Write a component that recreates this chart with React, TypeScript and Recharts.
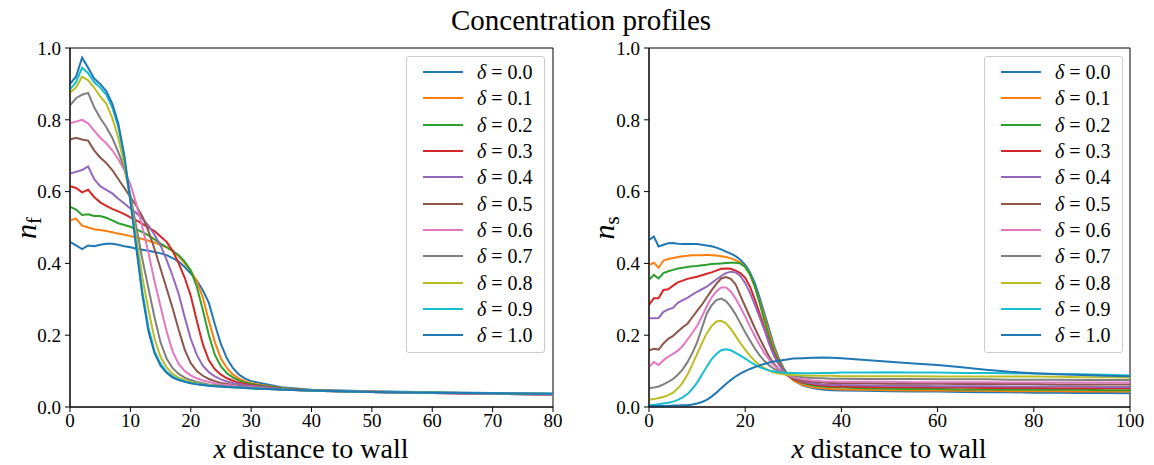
import React from 'react';
import { LineChart, Line, XAxis, YAxis, Legend, ReferenceArea } from 'recharts';

// x positions (distance to wall) of the sampled points
const leftX = [0, 1, 2, 3, 4, 5, 6, 7, 8, 9, 10, 11, 12, 13, 14, 15, 16, 17, 18, 19, 20, 21, 22, 23, 24, 25, 26, 27, 28, 29, 30, 35, 40, 50, 60, 70, 80];
const rightX = [0, 1, 2, 3, 4, 5, 6, 7, 8, 9, 10, 11, 12, 13, 14, 15, 16, 17, 18, 19, 20, 21, 22, 23, 24, 25, 26, 27, 28, 29, 30, 32, 34, 36, 38, 40, 45, 50, 55, 60, 65, 70, 75, 80, 85, 90, 95, 100];

const deltas = ['0.0', '0.1', '0.2', '0.3', '0.4', '0.5', '0.6', '0.7', '0.8', '0.9', '1.0'];
const colors = ['#1f77b4', '#ff7f0e', '#2ca02c', '#d62728', '#9467bd', '#8c564b', '#e377c2', '#7f7f7f', '#bcbd22', '#17becf', '#1f77b4'];

const leftTicks = [0, 10, 20, 30, 40, 50, 60, 70, 80];
const rightTicks = [0, 20, 40, 60, 80, 100];
const yTicks = [0, 0.2, 0.4, 0.6, 0.8, 1.0];

// n_f, left panel
const nf00 = [0.46, 0.45, 0.44, 0.45, 0.448, 0.452, 0.455, 0.455, 0.452, 0.448, 0.445, 0.441, 0.438, 0.435, 0.432, 0.428, 0.423, 0.415, 0.405, 0.39, 0.372, 0.352, 0.325, 0.29, 0.23, 0.175, 0.135, 0.108, 0.09, 0.079, 0.072, 0.055, 0.048, 0.044, 0.041, 0.039, 0.037];
const nf01 = [0.52, 0.525, 0.505, 0.5, 0.495, 0.493, 0.49, 0.487, 0.483, 0.48, 0.476, 0.472, 0.468, 0.463, 0.458, 0.452, 0.445, 0.435, 0.42, 0.4, 0.38, 0.35, 0.305, 0.24, 0.18, 0.135, 0.108, 0.09, 0.079, 0.071, 0.066, 0.053, 0.047, 0.043, 0.04, 0.038, 0.036];
const nf02 = [0.558, 0.55, 0.535, 0.537, 0.532, 0.532, 0.527, 0.52, 0.512, 0.507, 0.502, 0.495, 0.487, 0.478, 0.467, 0.455, 0.445, 0.435, 0.423, 0.405, 0.38, 0.335, 0.27, 0.2, 0.145, 0.113, 0.094, 0.082, 0.074, 0.068, 0.064, 0.052, 0.046, 0.042, 0.04, 0.037, 0.035];
const nf03 = [0.615, 0.61, 0.598, 0.605, 0.585, 0.57, 0.56, 0.552, 0.545, 0.537, 0.528, 0.52, 0.51, 0.5, 0.49, 0.475, 0.46, 0.435, 0.4, 0.36, 0.31, 0.24, 0.175, 0.13, 0.105, 0.09, 0.08, 0.073, 0.068, 0.064, 0.061, 0.051, 0.046, 0.042, 0.039, 0.037, 0.035];
const nf04 = [0.65, 0.655, 0.66, 0.67, 0.635, 0.615, 0.605, 0.595, 0.58, 0.567, 0.553, 0.54, 0.525, 0.505, 0.48, 0.45, 0.41, 0.365, 0.315, 0.25, 0.19, 0.145, 0.115, 0.097, 0.085, 0.077, 0.071, 0.067, 0.064, 0.061, 0.059, 0.05, 0.045, 0.042, 0.039, 0.037, 0.035];
const nf05 = [0.745, 0.75, 0.745, 0.742, 0.715, 0.695, 0.68, 0.66, 0.635, 0.61, 0.585, 0.56, 0.53, 0.49, 0.44, 0.385, 0.33, 0.275, 0.215, 0.16, 0.122, 0.1, 0.087, 0.078, 0.072, 0.067, 0.064, 0.061, 0.059, 0.057, 0.056, 0.049, 0.045, 0.042, 0.039, 0.037, 0.035];
const nf06 = [0.79, 0.795, 0.8, 0.79, 0.77, 0.75, 0.735, 0.715, 0.69, 0.66, 0.62, 0.565, 0.5, 0.43, 0.35, 0.28, 0.21, 0.155, 0.12, 0.1, 0.088, 0.08, 0.074, 0.07, 0.066, 0.063, 0.061, 0.059, 0.057, 0.056, 0.055, 0.049, 0.045, 0.042, 0.039, 0.037, 0.035];
const nf07 = [0.84, 0.86, 0.87, 0.875, 0.835, 0.805, 0.78, 0.75, 0.71, 0.665, 0.59, 0.5, 0.41, 0.33, 0.25, 0.18, 0.135, 0.108, 0.092, 0.082, 0.075, 0.07, 0.066, 0.063, 0.061, 0.059, 0.057, 0.056, 0.055, 0.054, 0.053, 0.049, 0.045, 0.042, 0.04, 0.038, 0.036];
const nf08 = [0.875, 0.89, 0.92, 0.91, 0.89, 0.865, 0.845, 0.805, 0.75, 0.675, 0.58, 0.47, 0.36, 0.27, 0.19, 0.14, 0.11, 0.092, 0.082, 0.075, 0.07, 0.066, 0.063, 0.061, 0.059, 0.057, 0.056, 0.055, 0.054, 0.053, 0.052, 0.049, 0.046, 0.042, 0.04, 0.038, 0.036];
const nf09 = [0.885, 0.905, 0.945, 0.93, 0.905, 0.89, 0.87, 0.835, 0.78, 0.695, 0.575, 0.45, 0.32, 0.22, 0.155, 0.12, 0.098, 0.085, 0.077, 0.071, 0.067, 0.064, 0.062, 0.06, 0.058, 0.057, 0.056, 0.055, 0.054, 0.053, 0.052, 0.049, 0.046, 0.042, 0.04, 0.038, 0.037];
const nf10 = [0.9, 0.92, 0.973, 0.945, 0.915, 0.9, 0.88, 0.845, 0.79, 0.7, 0.575, 0.44, 0.31, 0.21, 0.15, 0.115, 0.095, 0.082, 0.075, 0.07, 0.066, 0.063, 0.061, 0.059, 0.058, 0.057, 0.056, 0.055, 0.054, 0.053, 0.052, 0.049, 0.046, 0.042, 0.04, 0.038, 0.037];

// n_s, right panel
const ns00 = [0.465, 0.475, 0.447, 0.452, 0.456, 0.457, 0.455, 0.454, 0.454, 0.454, 0.454, 0.452, 0.45, 0.448, 0.444, 0.439, 0.433, 0.427, 0.42, 0.41, 0.396, 0.375, 0.345, 0.305, 0.26, 0.215, 0.17, 0.135, 0.108, 0.088, 0.075, 0.06, 0.053, 0.049, 0.047, 0.046, 0.045, 0.044, 0.043, 0.043, 0.042, 0.041, 0.041, 0.04, 0.04, 0.039, 0.039, 0.038];
const ns01 = [0.395, 0.402, 0.388, 0.408, 0.412, 0.415, 0.418, 0.42, 0.421, 0.423, 0.423, 0.423, 0.424, 0.423, 0.422, 0.42, 0.418, 0.414, 0.409, 0.402, 0.39, 0.368, 0.335, 0.295, 0.25, 0.205, 0.163, 0.13, 0.105, 0.087, 0.074, 0.061, 0.055, 0.052, 0.05, 0.049, 0.048, 0.047, 0.046, 0.046, 0.045, 0.045, 0.044, 0.044, 0.044, 0.043, 0.043, 0.043];
const ns02 = [0.354, 0.368, 0.358, 0.373, 0.378, 0.382, 0.386, 0.388, 0.39, 0.392, 0.393, 0.395, 0.396, 0.398, 0.399, 0.4, 0.401, 0.402, 0.402, 0.4, 0.39, 0.37, 0.335, 0.29, 0.24, 0.195, 0.155, 0.125, 0.103, 0.088, 0.078, 0.066, 0.06, 0.057, 0.055, 0.054, 0.052, 0.051, 0.05, 0.05, 0.049, 0.049, 0.048, 0.048, 0.048, 0.048, 0.047, 0.047];
const ns03 = [0.284, 0.303, 0.303, 0.326, 0.328, 0.338, 0.347, 0.352, 0.357, 0.36, 0.363, 0.367, 0.371, 0.375, 0.38, 0.385, 0.386, 0.385, 0.38, 0.373, 0.36, 0.335, 0.3, 0.26, 0.22, 0.18, 0.145, 0.12, 0.1, 0.087, 0.078, 0.068, 0.063, 0.06, 0.058, 0.057, 0.056, 0.055, 0.055, 0.054, 0.054, 0.053, 0.053, 0.053, 0.052, 0.052, 0.052, 0.052];
const ns04 = [0.247, 0.247, 0.248, 0.265, 0.272, 0.276, 0.29, 0.298, 0.304, 0.313, 0.321, 0.328, 0.335, 0.345, 0.355, 0.365, 0.373, 0.377, 0.375, 0.365, 0.345, 0.318, 0.285, 0.25, 0.215, 0.175, 0.142, 0.118, 0.1, 0.088, 0.08, 0.07, 0.066, 0.063, 0.062, 0.061, 0.06, 0.059, 0.059, 0.058, 0.058, 0.058, 0.057, 0.057, 0.057, 0.057, 0.056, 0.056];
const ns05 = [0.157, 0.162, 0.16, 0.177, 0.19, 0.198, 0.21, 0.222, 0.232, 0.25, 0.268, 0.285, 0.305, 0.325, 0.343, 0.358, 0.362, 0.357, 0.342, 0.31, 0.28, 0.25, 0.22, 0.192, 0.165, 0.14, 0.12, 0.105, 0.094, 0.086, 0.08, 0.073, 0.07, 0.068, 0.067, 0.066, 0.066, 0.065, 0.065, 0.065, 0.064, 0.064, 0.064, 0.064, 0.063, 0.063, 0.063, 0.063];
const ns06 = [0.112, 0.125, 0.117, 0.13, 0.14, 0.148, 0.157, 0.17, 0.188, 0.206, 0.226, 0.252, 0.28, 0.305, 0.322, 0.333, 0.333, 0.322, 0.302, 0.278, 0.252, 0.224, 0.198, 0.173, 0.15, 0.132, 0.116, 0.104, 0.095, 0.088, 0.083, 0.077, 0.074, 0.072, 0.071, 0.07, 0.07, 0.07, 0.069, 0.069, 0.069, 0.069, 0.068, 0.068, 0.068, 0.068, 0.068, 0.068];
const ns07 = [0.052, 0.054, 0.057, 0.063, 0.07, 0.078, 0.09, 0.105, 0.125, 0.15, 0.18, 0.22, 0.26, 0.283, 0.298, 0.302, 0.295, 0.279, 0.258, 0.233, 0.208, 0.185, 0.163, 0.144, 0.128, 0.116, 0.106, 0.099, 0.094, 0.09, 0.087, 0.083, 0.081, 0.08, 0.079, 0.079, 0.078, 0.078, 0.078, 0.077, 0.077, 0.077, 0.076, 0.076, 0.076, 0.075, 0.075, 0.075];
const ns08 = [0.02, 0.022, 0.025, 0.028, 0.033, 0.04, 0.052, 0.068, 0.09, 0.118, 0.148, 0.178, 0.205, 0.225, 0.238, 0.24, 0.233, 0.218, 0.198, 0.178, 0.16, 0.143, 0.128, 0.117, 0.108, 0.101, 0.096, 0.093, 0.091, 0.09, 0.089, 0.088, 0.087, 0.087, 0.087, 0.086, 0.086, 0.086, 0.086, 0.085, 0.085, 0.085, 0.085, 0.085, 0.084, 0.083, 0.083, 0.082];
const ns09 = [0.005, 0.006, 0.008, 0.01, 0.012, 0.015, 0.02, 0.027, 0.036, 0.05, 0.068, 0.09, 0.112, 0.133, 0.148, 0.158, 0.161, 0.158, 0.151, 0.143, 0.135, 0.126, 0.118, 0.111, 0.106, 0.102, 0.099, 0.097, 0.096, 0.095, 0.095, 0.094, 0.094, 0.095, 0.095, 0.096, 0.096, 0.097, 0.096, 0.096, 0.095, 0.095, 0.094, 0.093, 0.092, 0.091, 0.09, 0.088];
const ns10 = [0.003, 0.003, 0.003, 0.003, 0.003, 0.004, 0.004, 0.005, 0.005, 0.007, 0.01, 0.014, 0.02, 0.029, 0.04, 0.052, 0.064, 0.075, 0.085, 0.093, 0.1, 0.106, 0.111, 0.116, 0.12, 0.124, 0.127, 0.129, 0.131, 0.133, 0.135, 0.136, 0.137, 0.138, 0.137, 0.136, 0.131, 0.126, 0.121, 0.117, 0.111, 0.104, 0.098, 0.094, 0.091, 0.089, 0.087, 0.086];

const nfSeries = [nf00, nf01, nf02, nf03, nf04, nf05, nf06, nf07, nf08, nf09, nf10];
const nsSeries = [ns00, ns01, ns02, ns03, ns04, ns05, ns06, ns07, ns08, ns09, ns10];

const toRows = (xs: number[], series: number[][]) =>
  xs.map((x, i) => {
    const row: Record<string, number> = { x };
    series.forEach((s, k) => { row['d' + k] = s[i]; });
    return row;
  });

const leftData = toRows(leftX, nfSeries);
const rightData = toRows(rightX, nsSeries);

const FONT = '"Liberation Serif", "DejaVu Serif", serif';
const tickStyle = { fill: '#000', fontSize: 19, fontFamily: FONT };

function LegendBox(props: any) {
  const payload = props.payload || [];
  return (
    <div style={{
      width: 139, height: 297, boxSizing: 'border-box', border: '1px solid #cccccc',
      borderRadius: 3, background: 'rgba(255,255,255,0.8)', paddingTop: 2, fontFamily: FONT,
    }}>
      {payload.map((p: any, i: number) => (
        <div key={i} style={{ height: 26.3, display: 'flex', alignItems: 'center' }}>
          <div style={{ width: 40, height: 2, marginLeft: 16, background: p.color }} />
          <div style={{ marginLeft: 14, fontSize: 20, lineHeight: 1, whiteSpace: 'nowrap', color: '#000' }}>
            <i>δ</i> = {p.value}
          </div>
        </div>
      ))}
    </div>
  );
}

function Panel({ data, xMax, ticks, legendLeft, yWidth }: any) {
  return (
    <LineChart width={570} height={465} data={data} margin={{ top: 48, right: 570 - yWidth - (xMax === 80 ? 483 : 481), bottom: 0, left: 0 }}>
      <XAxis dataKey="x" type="number" domain={[0, xMax]} ticks={ticks} allowDataOverflow
        height={58} tick={tickStyle} tickSize={5} tickMargin={2}
        axisLine={{ stroke: '#000' }} tickLine={{ stroke: '#000' }} />
      <YAxis type="number" domain={[0, 1]} ticks={yTicks} allowDataOverflow width={yWidth}
        tick={tickStyle} tickSize={5} tickMargin={4} tickFormatter={(v: number) => v.toFixed(1)}
        axisLine={{ stroke: '#000' }} tickLine={{ stroke: '#000' }} />
      <ReferenceArea x1={0} x2={xMax} y1={0} y2={1} fill="none" stroke="#000" strokeWidth={1} />
      {deltas.map((d, k) => (
        <Line key={k} dataKey={'d' + k} name={d} type="linear" stroke={colors[k]} strokeWidth={2}
          dot={false} isAnimationActive={false} />
      ))}
      <Legend layout="vertical" align="center" verticalAlign="middle" content={<LegendBox />}
        wrapperStyle={{ left: legendLeft, top: 56, width: 139, height: 297 }} />
    </LineChart>
  );
}

const xLabel = (cx: number) => (
  <div style={{ position: 'absolute', left: cx, top: 449, transform: 'translate(-50%,-50%)', fontSize: 28, lineHeight: 1, whiteSpace: 'nowrap' }}>
    <i>x</i> distance to wall
  </div>
);

const yLabel = (cx: number, sub: string) => (
  <div style={{ position: 'absolute', left: cx, top: 228, transform: 'translate(-50%,-50%) rotate(-90deg)', fontSize: 30, lineHeight: 1, whiteSpace: 'nowrap' }}>
    <i>n</i><sub style={{ fontSize: 21, verticalAlign: '-0.25em' }}>{sub}</sub>
  </div>
);

export default function App() {
  return (
    <div style={{ position: 'absolute', left: 0, top: 0, width: 1154, height: 465, background: '#fff', fontFamily: FONT, color: '#000', overflow: 'hidden' }}>
      <div style={{ position: 'absolute', left: 0, top: 0 }}>
        <Panel data={leftData} xMax={80} ticks={leftTicks} legendLeft={406} yWidth={70} />
      </div>
      <div style={{ position: 'absolute', left: 580, top: 0 }}>
        <Panel data={rightData} xMax={100} ticks={rightTicks} legendLeft={404} yWidth={69} />
      </div>
      <div style={{ position: 'absolute', left: 581, top: 20, transform: 'translate(-50%,-50%)', fontSize: 29, lineHeight: 1, whiteSpace: 'nowrap' }}>
        Concentration profiles
      </div>
      {xLabel(311)}
      {xLabel(889)}
      {yLabel(28, 'f')}
      {yLabel(606, 's')}
    </div>
  );
}
